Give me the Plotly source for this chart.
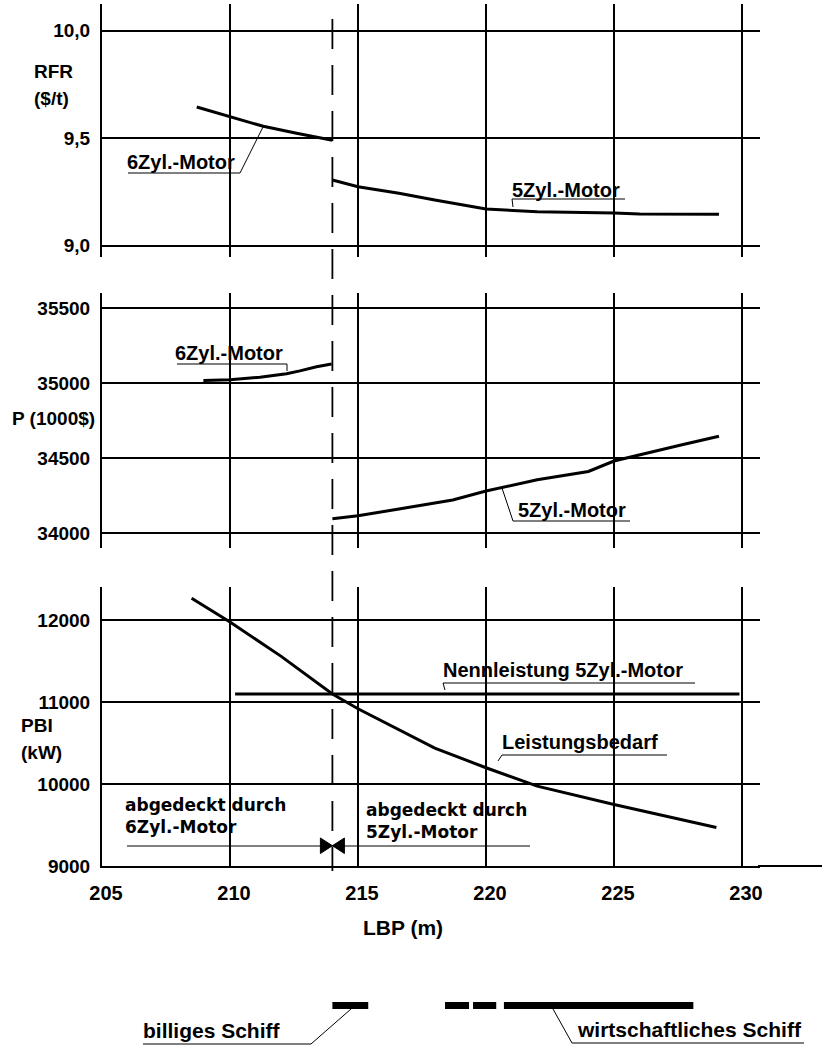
import plotly.graph_objects as go

# ---------------- data ----------------
# RFR (required freight rate, $/t) over LBP (m)
lbp_rfr_6zyl = [208.7, 210.0, 211.3, 212.6, 214.0]
rfr_6zyl = [9.645, 9.600, 9.555, 9.523, 9.490]
lbp_rfr_5zyl = [214.0, 215.0, 216.6, 218.0, 220.0, 222.0, 225.0, 226.0, 229.1]
rfr_5zyl = [9.305, 9.274, 9.244, 9.212, 9.170, 9.158, 9.152, 9.147, 9.146]

# P (price, 1000 $) over LBP (m)
lbp_p_6zyl = [208.96, 210.0, 211.17, 212.21, 212.73, 213.38, 213.97]
p_6zyl = [35017, 35021, 35039, 35062, 35081, 35108, 35127]
lbp_p_5zyl = [214.0, 215.0, 216.6, 218.7, 220.0, 222.0, 224.0, 225.0, 227.7, 229.1]
p_5zyl = [34095, 34115, 34160, 34220, 34280, 34355, 34410, 34480, 34590, 34645]

# PBI (kW): power demand and rated power of the 5-cylinder engine
lbp_pbi = [208.5, 210.0, 212.0, 214.0, 215.0, 216.6, 218.0, 220.0, 222.0, 225.0, 229.0]
pbi_bedarf = [12270, 11980, 11560, 11100, 10920, 10660, 10440, 10200, 9975, 9750, 9470]
lbp_nenn = [210.2, 229.9]
pbi_nenn = [11100, 11100]

# switch point between 6- and 5-cylinder engine
lbp_switch = 214.0

# LBP ranges of the cheap and the economical ship
lbp_billig = [214.0, 215.4]
lbp_wirtsch_dashed = [218.4, 220.4]
lbp_wirtsch = [220.7, 228.1]

# axis ticks
x_ticks = [205, 210, 215, 220, 225, 230]
rfr_ticks = [9.0, 9.5, 10.0]
p_ticks = [34000, 34500, 35000, 35500]
pbi_ticks = [9000, 10000, 11000, 12000]

# ---------------- layout helpers ----------------
W, H = 822, 1047


def px(x):
    return x / W


def py(y):
    return 1 - y / H


BLACK = "#000000"
LBL = dict(family="Liberation Sans, Arial, sans-serif", size=20, color=BLACK, weight="bold")
TICK = dict(family="Liberation Sans, Arial, sans-serif", size=19, color=BLACK, weight="bold")
XTICK = dict(family="Liberation Sans Narrow, Arial Narrow, Liberation Sans, sans-serif",
             size=20, color=BLACK, weight="bold")
THIN = dict(family="DejaVu Sans, sans-serif", size=17, color=BLACK, weight="bold")

x_dom = [px(102), px(760)]
x_rng = [205, 205 + (760 - 102) / 25.6]

fig = go.Figure()

line_style = dict(color=BLACK, width=3)
fig.add_trace(go.Scatter(x=lbp_rfr_6zyl, y=rfr_6zyl, mode="lines", line=line_style,
                         xaxis="x", yaxis="y"))
fig.add_trace(go.Scatter(x=lbp_rfr_5zyl, y=rfr_5zyl, mode="lines", line=line_style,
                         xaxis="x", yaxis="y"))
fig.add_trace(go.Scatter(x=lbp_p_6zyl, y=p_6zyl, mode="lines", line=line_style,
                         xaxis="x2", yaxis="y2"))
fig.add_trace(go.Scatter(x=lbp_p_5zyl, y=p_5zyl, mode="lines", line=line_style,
                         xaxis="x2", yaxis="y2"))
fig.add_trace(go.Scatter(x=lbp_pbi, y=pbi_bedarf, mode="lines", line=line_style,
                         xaxis="x3", yaxis="y3"))
fig.add_trace(go.Scatter(x=lbp_nenn, y=pbi_nenn, mode="lines", line=line_style,
                         xaxis="x3", yaxis="y3"))

grid = dict(showgrid=True, gridcolor=BLACK, gridwidth=1.5, zeroline=False, automargin=False)


def xax(anchor, labels):
    d = dict(domain=x_dom, range=x_rng, anchor=anchor, tickvals=x_ticks,
             showticklabels=labels, ticks="", **grid)
    if labels:
        d.update(showline=True, linecolor=BLACK, linewidth=2, tickfont=XTICK,
                 ticklabelstandoff=8, ticklabelshift=4)
    else:
        d.update(showline=False)
    return d


def yax(anchor, dom, rng, ticks, fmt):
    return dict(domain=dom, range=rng, anchor=anchor, tickvals=ticks, tickformat=fmt,
                showline=True, linecolor=BLACK, linewidth=2, ticks="",
                tickfont=TICK, ticklabelstandoff=6, **grid)


fig.update_layout(
    width=W, height=H,
    margin=dict(l=0, r=0, t=0, b=0, autoexpand=False),
    paper_bgcolor="white", plot_bgcolor="white",
    showlegend=False,
    separators=",.",
    xaxis=xax("y", False),
    xaxis2=xax("y2", False),
    xaxis3=xax("y3", True),
    yaxis=yax("x", [py(257), py(4)], [8.947, 10.124], rfr_ticks, ".1f"),
    yaxis2=yax("x2", [py(548), py(293)], [33900, 35600], p_ticks, "d"),
    yaxis3=yax("x3", [py(866), py(587)], [9000, 12407], pbi_ticks, "d"),
)

shapes = []
# dashed line at the switch point through all panels
shapes.append(dict(type="line", xref="x3", yref="paper", x0=lbp_switch, x1=lbp_switch,
                   y0=py(19), y1=py(871), line=dict(color=BLACK, width=1.8, dash="30px,16px")))
# bottom axis line running to the right edge
shapes.append(dict(type="line", xref="paper", yref="paper", x0=px(758), x1=1,
                   y0=py(866), y1=py(866), line=dict(color=BLACK, width=2)))


def seg(x0, y0, x1, y1, w=1.2):
    shapes.append(dict(type="line", xref="paper", yref="paper",
                       x0=px(x0), y0=py(y0), x1=px(x1), y1=py(y1),
                       line=dict(color=BLACK, width=w)))


ann = []


def text(t, x, y, font=LBL):
    ann.append(dict(text=t, x=px(x), y=py(y), xref="paper", yref="paper",
                    xanchor="left", yanchor="middle", showarrow=False, font=font,
                    align="left", borderpad=0))


# axis titles
text("RFR", 33, 72, TICK)
text("($/t)", 33, 98, TICK)
text("P (1000$)", 11, 418, TICK)
text("PBI", 20, 725, TICK)
text("(kW)", 20, 752, TICK)
text("LBP (m)", 362, 927, dict(LBL, size=21))

# curve labels with underline and leader
text("6Zyl.-Motor", 126, 162)
seg(128, 173, 240, 173)
seg(240, 173, 263, 127, 1)

text("5Zyl.-Motor", 511, 190)
seg(512, 199, 625, 199)
seg(512, 199, 513, 207, 1)

text("6Zyl.-Motor", 174, 353)
seg(177, 364, 287, 364)
seg(287, 364, 287, 371, 1)

text("5Zyl.-Motor", 517, 510)
seg(513, 521, 630, 521)
seg(513, 521, 502, 488, 1)

text("Nennleistung 5Zyl.-Motor", 442, 670)
seg(443, 683, 695, 683)
seg(443, 683, 445, 690, 1)

text("Leistungsbedarf", 501, 742)
seg(502, 755, 667, 755)
seg(502, 755, 498, 761, 1)

# coverage of both engines
text("abgedeckt durch<br>6Zyl.-Motor", 124, 816, THIN)
text("abgedeckt durch<br>5Zyl.-Motor", 365, 821, THIN)
seg(127, 846, 530, 846)
hw = 12 / 25.6
for sgn in (-1, 1):
    bx = lbp_switch + sgn * hw
    shapes.append(dict(type="path", xref="x3", yref="paper",
                       path=f"M {bx},{py(838)} L {bx},{py(853.5)} L {lbp_switch},{py(845.7)} Z",
                       fillcolor=BLACK, line=dict(color=BLACK, width=1)))

# cheap / economical ship ranges
bar_y = py(1005.5)
for rng, dash in ((lbp_billig, "solid"), (lbp_wirtsch_dashed, "24px,4px"), (lbp_wirtsch, "solid")):
    shapes.append(dict(type="line", xref="x3", yref="paper", x0=rng[0], x1=rng[1],
                       y0=bar_y, y1=bar_y, line=dict(color=BLACK, width=7, dash=dash)))

text("billiges Schiff", 142, 1030, dict(LBL, size=21))
seg(143, 1044, 311, 1044)
seg(311, 1044, 351, 1009, 1)

text("wirtschaftliches Schiff", 576, 1029, dict(LBL, size=21))
seg(572, 1043, 804, 1043)
seg(572, 1043, 553, 1009, 1)

fig.update_layout(shapes=shapes, annotations=ann)
fig.write_html("out.html")
